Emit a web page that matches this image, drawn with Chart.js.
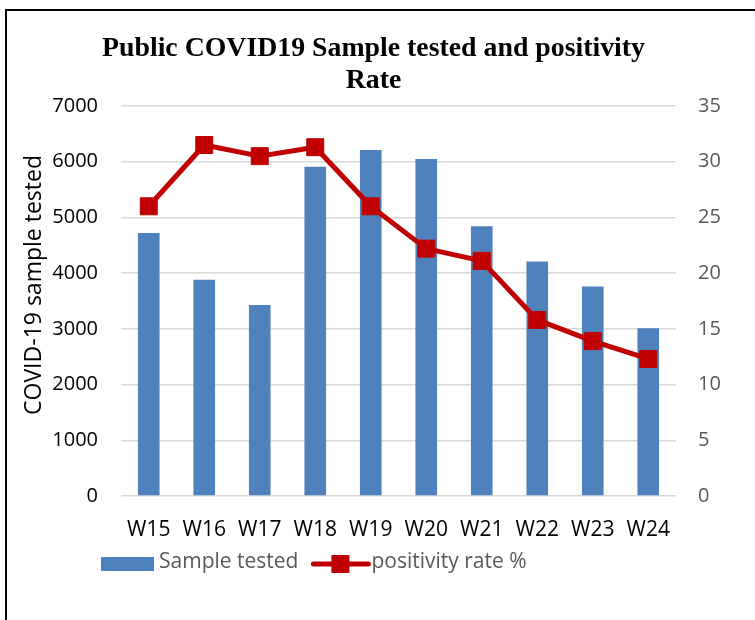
<!DOCTYPE html>
<html lang="en">
<head>
  <meta charset="UTF-8">
  <title>Public COVID19 Sample tested and positivity Rate</title>
  <script src="https://cdn.jsdelivr.net/npm/chart.js"></script>
  <style>
    body { margin: 0; background: #fff; overflow: hidden; }
    #frame {
      position: absolute; left: 5px; top: 9px; width: 800px; height: 700px;
      border-left: 2px solid #000; border-top: 2px solid #000;
    }
    #wrap { position: absolute; left: 0; top: 0; width: 755px; height: 620px; }
  </style>
</head>
<body>
  <div id="frame"></div>
  <div id="wrap">
    <canvas id="covidChart" width="755" height="620"></canvas>
  </div>

  <script>
    // datos
    const weeks = ['W15', 'W16', 'W17', 'W18', 'W19', 'W20', 'W21', 'W22', 'W23', 'W24'];
    const samplesTested = [4720, 3880, 3430, 5910, 6210, 6050, 4840, 4210, 3760, 3010];
    const positivityRate = [26.0, 31.5, 30.5, 31.3, 26.0, 22.2, 21.1, 15.8, 13.9, 12.3];
    const leftTicks = [0, 1000, 2000, 3000, 4000, 5000, 6000, 7000];
    const rightTicks = [0, 5, 10, 15, 20, 25, 30, 35];

    const titleLines = ['Public COVID19 Sample tested and positivity', 'Rate'];
    const yTitle = 'COVID-19 sample tested';

    const BLUE = '#4F81BD';
    const RED = '#C00000';
    const GREY = '#595959';
    const SANS = '"Open Sans", sans-serif';

    // titulo, titulo del eje y leyenda dibujados a mano
    const extras = {
      id: 'extras',
      afterDraw(chart) {
        const c = chart.ctx;
        c.save();

        // titulo (serif, negrita, algo estrecho)
        c.fillStyle = '#000';
        c.font = 'bold 27px "Liberation Serif", serif';
        c.textAlign = 'center';
        c.textBaseline = 'alphabetic';
        const w0 = c.measureText(titleLines[0]).width;
        const sx = 543 / w0;
        titleLines.forEach((t, i) => {
          c.save();
          c.translate(373.5, 56 + i * 32);
          c.scale(sx, 1);
          c.fillText(t, 0, 0);
          c.restore();
        });

        // titulo eje izquierdo
        c.save();
        c.translate(34, 285);
        c.rotate(-Math.PI / 2);
        c.font = '23px ' + SANS;
        c.fillStyle = '#000';
        c.textBaseline = 'middle';
        c.fillText(yTitle, 0, 0);
        c.restore();

        // leyenda
        c.font = '21px ' + SANS;
        c.textAlign = 'left';
        c.textBaseline = 'middle';
        const ly = 564;
        c.fillStyle = BLUE;
        c.fillRect(101, 557, 53, 14);
        c.fillStyle = GREY;
        c.fillText(chart.data.datasets[1].label, 159, ly - 2);
        let x = 159 + c.measureText(chart.data.datasets[1].label).width + 15;
        c.strokeStyle = RED;
        c.lineWidth = 5;
        c.lineCap = 'round';
        c.beginPath();
        c.moveTo(x, ly);
        c.lineTo(x + 55, ly);
        c.stroke();
        c.fillStyle = RED;
        c.fillRect(x + 18, ly - 9, 18, 18);
        c.fillStyle = GREY;
        c.fillText(chart.data.datasets[0].label, x + 58, ly - 2);

        c.restore();
      }
    };

    const ctx = document.getElementById('covidChart').getContext('2d');

    new Chart(ctx, {
      type: 'bar',
      data: {
        labels: weeks,
        datasets: [
          {
            type: 'line',
            label: 'positivity rate %',
            data: positivityRate,
            yAxisID: 'y1',
            borderColor: RED,
            borderWidth: 5,
            borderJoinStyle: 'round',
            borderCapStyle: 'round',
            pointStyle: 'rect',
            pointRadius: 12,
            pointBackgroundColor: RED,
            pointBorderColor: RED,
            pointBorderWidth: 1,
            tension: 0,
            order: 0
          },
          {
            label: 'Sample tested',
            data: samplesTested,
            yAxisID: 'y',
            backgroundColor: BLUE,
            barPercentage: 0.39,
            categoryPercentage: 1,
            order: 1
          }
        ]
      },
      options: {
        responsive: false,
        animation: false,
        layout: { padding: { top: 106, left: 0, right: 0, bottom: 0 } },
        plugins: {
          legend: { display: false },
          title: { display: false },
          tooltip: { enabled: false }
        },
        scales: {
          x: {
            grid: { display: false },
            border: { display: false },
            ticks: { color: '#000', font: { family: SANS, size: 21 }, padding: 13, maxRotation: 0 },
            afterFit: (s) => { s.height = 124; }
          },
          y: {
            position: 'left',
            min: 0,
            max: 7000,
            afterBuildTicks: (s) => { s.ticks = leftTicks.map(v => ({ value: v })); },
            grid: { color: '#D9D9D9', lineWidth: 1.5, drawTicks: false },
            border: { display: false },
            ticks: {
              color: '#000', font: { family: SANS, size: 20 }, padding: 23,
              callback: (v) => String(v)
            },
            afterFit: (s) => { s.width = 121; }
          },
          y1: {
            position: 'right',
            min: 0,
            max: 35,
            afterBuildTicks: (s) => { s.ticks = rightTicks.map(v => ({ value: v })); },
            grid: { drawOnChartArea: false, drawTicks: false },
            border: { display: false },
            ticks: { color: GREY, font: { family: SANS, size: 20 }, padding: 22 },
            afterFit: (s) => { s.width = 79; }
          }
        }
      },
      plugins: [extras]
    });
  </script>
</body>
</html>
